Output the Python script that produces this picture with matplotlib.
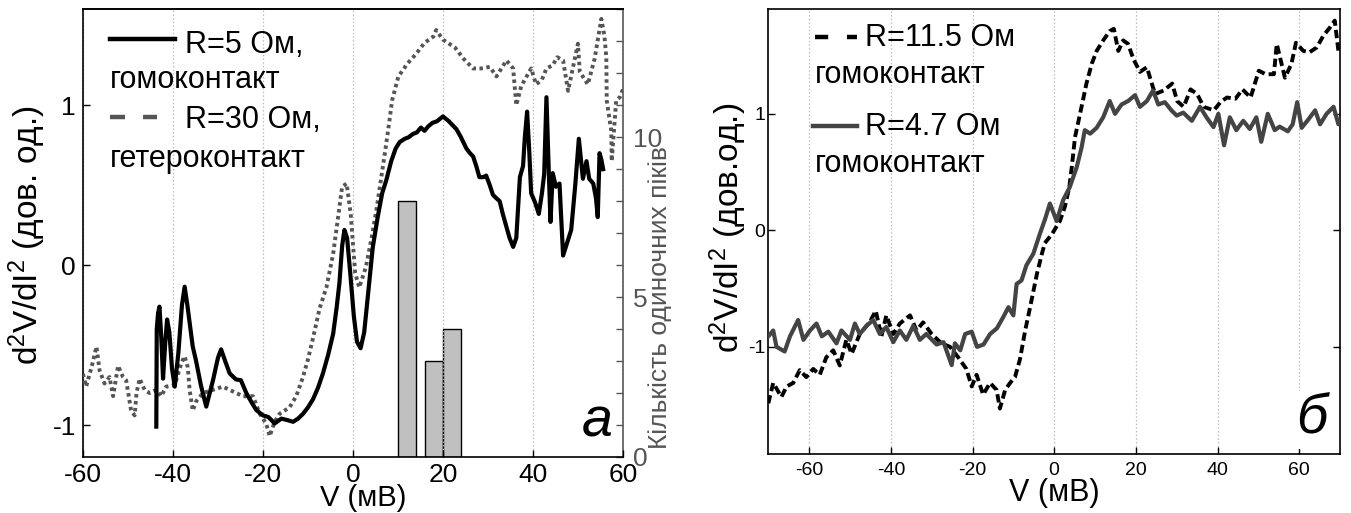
import matplotlib
matplotlib.use("Agg")
import matplotlib.pyplot as plt
from matplotlib.lines import Line2D
from matplotlib.ticker import MultipleLocator, FixedLocator

plt.rcParams['font.family'] = ['Liberation Sans', 'DejaVu Sans']
plt.rcParams['mathtext.fontset'] = 'custom'
plt.rcParams['mathtext.rm'] = 'Liberation Sans'
plt.rcParams['mathtext.it'] = 'Liberation Sans:italic'
plt.rcParams['lines.scale_dashes'] = False
plt.rcParams['axes.unicode_minus'] = False

# ---------------- panel a data ----------------
a_black_x = [-43.7, -43.6, -43.3, -43.0, -42.6, -42.2, -41.7, -41.3, -40.8, -40.2, -39.6, -38.8, -38.0, -37.4,
             -36.8, -35.6, -34.9, -33.8, -32.6, -31.1, -30.0, -29.3, -28.4, -27.4, -26.0, -24.9, -23.7, -22.5,
             -21.5, -20.0, -18.8, -17.4, -15.9, -14.5, -13.3, -12.2, -11.1, -10.0, -8.9, -7.8, -6.7, -5.5, -4.4,
             -3.6, -3.0, -2.4, -1.9, -1.3, -0.6, 0.2, 0.9, 1.7, 2.5, 3.4, 4.4, 5.5, 6.5, 7.4, 8.5, 9.5, 10.4,
             11.5, 12.4, 13.3, 14.2, 15.1, 15.9, 16.8, 17.7, 18.7, 20.0, 21.3, 23.0, 24.0, 25.2, 26.0, 26.7,
             27.4, 28.1, 29.0, 29.6, 30.4, 31.1, 31.8, 32.6, 33.3, 34.1, 34.8, 35.6, 36.3, 37.1, 37.8, 38.2,
             38.7, 39.2, 39.6, 40.5, 41.3, 42.0, 42.5, 43.0, 43.5, 43.9, 44.4, 45.1, 45.9, 46.7, 47.6, 48.5,
             49.4, 50.2, 51.1, 51.9, 52.5, 53.4, 54.0, 54.4, 54.8, 55.2, 55.6]
a_black_y = [-1.01, -0.40, -0.30, -0.26, -0.45, -0.71, -0.48, -0.34, -0.42, -0.65, -0.76, -0.55, -0.25, -0.135,
             -0.25, -0.51, -0.594, -0.75, -0.885, -0.72, -0.58, -0.527, -0.60, -0.677, -0.715, -0.72, -0.80, -0.86,
             -0.906, -0.94, -0.95, -0.99, -0.96, -0.97, -0.98, -0.96, -0.93, -0.89, -0.84, -0.77, -0.68, -0.56, -0.43,
             -0.26, -0.11, 0.12, 0.22, 0.17, -0.05, -0.32, -0.48, -0.52, -0.42, -0.17, 0.11, 0.30, 0.45, 0.53, 0.65,
             0.73, 0.77, 0.79, 0.80, 0.82, 0.83, 0.86, 0.84, 0.87, 0.89, 0.90, 0.93, 0.90, 0.85, 0.80, 0.73, 0.70,
             0.68, 0.62, 0.55, 0.55, 0.56, 0.50, 0.44, 0.42, 0.40, 0.32, 0.24, 0.17, 0.114, 0.17, 0.55, 0.62, 0.80,
             0.96, 0.70, 0.45, 0.39, 0.32, 0.45, 0.57, 1.05, 0.60, 0.27, 0.575, 0.49, 0.51, 0.06, 0.14, 0.22,
             0.50, 0.79, 0.54, 0.65, 0.54, 0.51, 0.42, 0.30, 0.70, 0.66, 0.60]

a_grey_x = [-60.0, -59.3, -58.1, -57.0, -56.3, -55.2, -54.1, -53.3, -52.2, -51.1, -50.4, -49.3, -48.5, -48.1,
            -47.4, -46.3, -45.2, -43.7, -42.6, -41.5, -39.6, -38.1, -37.4, -36.7, -36.3, -35.6, -34.8, -33.3,
            -31.1, -28.9, -26.7, -24.4, -22.2, -20.7, -19.3, -18.5, -17.4, -16.3, -14.1, -12.6, -11.1, -10.0,
            -8.9, -7.4, -5.9, -4.4, -3.3, -2.4, -1.4, -0.5, 0.5, 1.4, 2.9, 4.2, 5.3, 6.3, 7.2, 8.0, 8.7, 10.1,
            12.1, 14.0, 15.9, 17.9, 18.5, 20.0, 22.7, 24.6, 26.7, 28.5, 30.4, 31.9, 34.1, 35.6, 36.3, 37.4,
            39.6, 40.7, 42.0, 43.0, 44.4, 45.4, 46.7, 47.8, 48.7, 50.0, 50.4, 52.2, 53.7, 55.2, 55.9, 56.3,
            56.4, 57.4, 57.5, 58.5, 59.3, 60.0]
a_grey_y = [-0.68, -0.76, -0.64, -0.51, -0.66, -0.74, -0.70, -0.82, -0.63, -0.70, -0.72, -0.91, -0.94, -0.80,
            -0.71, -0.78, -0.80, -0.78, -0.82, -0.76, -0.75, -0.61, -0.57, -0.64, -0.78, -0.91, -0.85, -0.80,
            -0.78, -0.76, -0.79, -0.82, -0.82, -0.93, -0.99, -1.07, -0.98, -0.93, -0.89, -0.82, -0.70, -0.59,
            -0.46, -0.27, -0.14, 0.07, 0.30, 0.49, 0.51, 0.32, -0.05, -0.14, -0.01, 0.18, 0.36, 0.55, 0.72, 0.88,
            1.03, 1.18, 1.26, 1.32, 1.39, 1.43, 1.47, 1.41, 1.36, 1.29, 1.23, 1.23, 1.24, 1.18, 1.28, 1.23, 1.00,
            1.12, 1.23, 1.13, 1.16, 1.23, 1.25, 1.30, 1.28, 1.09, 1.21, 1.385, 1.21, 1.13, 1.29, 1.54, 1.43, 1.30,
            1.03, 0.84, 0.65, 1.03, 1.05, 1.10]

# histogram of single peaks (right axis of panel a)
hist_centers = [12, 18, 22]
hist_counts = [8, 3, 4]
hist_width = 4

# ---------------- panel b data ----------------
b_black_x = [-70, -68.8, -66.8, -65.5, -63.9, -62.3, -60.7, -59.0, -57.4, -55.8, -54.1, -52.5, -50.9, -49.6,
             -47.6, -45.2, -43.7, -42.3, -41.1, -39.4, -37.8, -35.3, -33.7, -32.1, -30.0, -27.6, -25.5, -23.5,
             -21.5, -20.2, -19.0, -17.4, -15.7, -14.1, -13.3, -12.0, -10.8, -9.6, -8.4, -7.1, -5.9, -4.2, -3.0,
             -2.3, -0.5, 1.4, 2.6, 3.7, 4.3, 5.1, 6.7, 7.9, 9.2, 10.4, 12.0, 13.6, 14.6, 15.7, 16.9, 18.1, 19.4,
             21.0, 22.7, 23.9, 24.7, 26.8, 28.9, 30.1, 31.7, 33.4, 35.0, 36.6, 39.1, 40.7, 42.3, 44.4, 46.1,
             48.1, 50.1, 51.8, 53.8, 54.5, 56.5, 58.1, 59.2, 61.0, 62.6, 64.3, 65.9, 67.5, 68.7, 69.6]
b_black_y = [-1.485, -1.31, -1.43, -1.34, -1.31, -1.20, -1.26, -1.19, -1.24, -1.09, -1.03, -1.16, -0.94, -1.06,
             -0.89, -0.79, -0.69, -0.91, -0.73, -0.89, -0.80, -0.73, -0.86, -0.79, -0.89, -0.97, -1.00, -1.09,
             -1.19, -1.34, -1.24, -1.41, -1.31, -1.37, -1.53, -1.37, -1.31, -1.26, -1.11, -0.86, -0.66, -0.37, -0.20,
             -0.11, -0.03, 0.08, 0.20, 0.37, 0.54, 0.80, 1.06, 1.26, 1.43, 1.54, 1.63, 1.71, 1.73, 1.54, 1.63, 1.60,
             1.47, 1.36, 1.40, 1.26, 1.17, 1.20, 1.26, 1.11, 1.06, 1.21, 1.17, 1.06, 1.03, 1.10, 1.14, 1.13, 1.21,
             1.14, 1.37, 1.34, 1.34, 1.60, 1.31, 1.43, 1.61, 1.54, 1.53, 1.57, 1.67, 1.74, 1.80, 1.54]

b_grey_x = [-70, -68.8, -68, -66, -64.7, -62.7, -61.4, -59.8, -58.2, -56.9, -55.3, -53.3, -52.1, -50, -48.8,
            -47.6, -46, -44.3, -42.7, -41.1, -39.4, -37.8, -36.2, -34.5, -32.9, -31.3, -28.8, -27.1, -25.1, -24.3,
            -23.0, -21.8, -20.2, -18.9, -17.3, -15.7, -14.0, -12.4, -11.2, -10.0, -9.2, -8.0, -6.8, -5.1, -3.5,
            -2.2, -1.05, 0.6, 2.2, 3.8, 5.5, 6.7, 7.5, 8.8, 10.4, 12.0, 13.6, 14.9, 16.5, 18.1, 19.8, 21.0, 22.7,
            24.2, 25.5, 27.1, 28.7, 30.0, 31.6, 33.7, 35.7, 37.3, 39.0, 40.2, 41.6, 43.0, 44.6, 46.3, 47.9, 49.5,
            50.7, 52.3, 54.0, 55.2, 57.2, 58.4, 59.5, 60.6, 62.2, 63.9, 65.1, 66.7, 68.4, 69.6, 70]
b_grey_y = [-0.91, -0.86, -1.00, -1.04, -0.91, -0.77, -0.94, -0.86, -0.80, -0.91, -0.87, -0.97, -0.86, -0.94,
            -0.80, -0.89, -0.82, -0.77, -0.89, -0.83, -0.96, -0.86, -0.94, -0.82, -0.94, -0.89, -0.98, -0.96,
            -1.157, -0.97, -1.03, -0.89, -0.87, -1.00, -0.98, -0.89, -0.84, -0.74, -0.66, -0.73, -0.46, -0.43,
            -0.30, -0.20, -0.03, 0.10, 0.23, 0.08, 0.26, 0.37, 0.54, 0.71, 0.86, 0.83, 0.88, 0.97, 1.11, 1.00,
            1.08, 1.11, 1.16, 1.06, 1.11, 1.20, 1.08, 1.10, 1.03, 0.985, 1.01, 0.94, 1.06, 0.97, 0.886, 1.00,
            0.73, 0.97, 0.86, 0.94, 0.87, 0.97, 0.76, 1.00, 0.86, 0.89, 0.85, 0.91, 1.10, 0.88, 0.95, 1.03, 0.91,
            1.00, 1.06, 0.91, 0.94]

x_ticks = [-60, -40, -20, 0, 20, 40, 60]
y_ticks = [-1, 0, 1]

GREY_A = '#555555'
GREY_B = '#444444'
GRID_C = '#b8b8b8'

fig = plt.figure(figsize=(13.51, 5.13), dpi=100)
fig.patch.set_facecolor('white')

# ================= panel a =================
ax = fig.add_axes([0.0614, 0.1092, 0.3997, 0.8727])
ax.plot(a_grey_x, a_grey_y, color=GREY_A, lw=2.8, linestyle=(0, (2.5, 2.5)), zorder=3)
ax.plot(a_black_x, a_black_y, color='black', lw=3.0, zorder=4, solid_joinstyle='round')
ax.set_xlim(-60, 60)
ax.set_ylim(-1.2, 1.6)
ax.set_xticks(x_ticks)
ax.set_yticks(y_ticks)
ax.xaxis.grid(True, linestyle=':', color=GRID_C, lw=0.9)
ax.set_axisbelow(True)
ax.tick_params(direction='in', length=5, width=1, labelsize=19, top=False, right=False)
ax.tick_params(axis='x', pad=4)
ax.tick_params(axis='y', pad=5)
for s in ['left', 'bottom', 'top']:
    ax.spines[s].set_linewidth(1.2)
ax.spines['right'].set_visible(False)
ax.set_xlabel('V (мВ)', fontsize=21)
ax.xaxis.set_label_coords(0.5185, -0.061)
ax.set_ylabel(r'd$^2$V/dI$^2$ (дов. од.)', fontsize=24, va='center')
ax.yaxis.set_label_coords(-0.104, 0.496)

ax2 = ax.twinx()
ax2.bar(hist_centers, hist_counts, width=hist_width, color='#c0c0c0', edgecolor='black', lw=1.0, zorder=2)
ax2.set_ylim(0, 14)
ax2.yaxis.set_major_locator(FixedLocator([0, 5, 10]))
ax2.yaxis.set_minor_locator(MultipleLocator(1))
ax2.tick_params(axis='y', which='both', direction='in', length=5, width=1, colors=GREY_A,
                labelsize=19, pad=7)
ax2.spines['right'].set_color(GREY_A)
ax2.spines['right'].set_linewidth(1.2)
ax2.spines['top'].set_linewidth(1.2)
ax2.spines['left'].set_visible(False)
ax2.spines['bottom'].set_visible(False)
ax2.set_ylabel('Кількість одиночних піків', fontsize=19, color=GREY_A, va='center')
ax2.yaxis.set_label_coords(1.069, 0.355)
ax2.yaxis.get_major_ticks()[0].label2.set_verticalalignment('center_baseline')
ax.set_zorder(ax2.get_zorder() + 1)
ax.patch.set_visible(False)

# legend of panel a (drawn by hand to mimic the original layout)
ax.add_line(Line2D([0.050, 0.170], [0.933, 0.933], transform=ax.transAxes, color='black', lw=3.2))
ax.add_line(Line2D([0.050, 0.138], [0.760, 0.760], transform=ax.transAxes, color=GREY_A, lw=3.2,
                   linestyle=(0, (10.8, 13.0))))
ax.text(0.189, 0.9017, 'R=5 Ом,', transform=ax.transAxes, fontsize=22, va='baseline')
ax.text(0.050, 0.8235, 'гомоконтакт', transform=ax.transAxes, fontsize=22, va='baseline')
ax.text(0.189, 0.7341, 'R=30 Ом,', transform=ax.transAxes, fontsize=22, va='baseline')
ax.text(0.050, 0.6484, 'гетероконтакт', transform=ax.transAxes, fontsize=22, va='baseline')
ax.text(0.981, 0.0447, 'а', transform=ax.transAxes, fontsize=40, style='italic', ha='right', va='baseline')

# ================= panel b =================
bx = fig.add_axes([0.5687, 0.115, 0.4232, 0.8675])
bx.plot(b_black_x, b_black_y, color='black', lw=2.8, linestyle=(0, (6.0, 3.0)), zorder=3)
bx.plot(b_grey_x, b_grey_y, color=GREY_B, lw=3.0, zorder=4)
bx.set_xlim(-70, 70)
bx.set_ylim(-1.92, 1.9)
bx.set_xticks(x_ticks)
bx.set_yticks(y_ticks)
bx.xaxis.grid(True, linestyle=':', color=GRID_C, lw=0.9)
bx.set_axisbelow(True)
bx.tick_params(direction='in', length=5, width=1, labelsize=14, top=False, right=True)
bx.tick_params(axis='x', pad=6)
bx.tick_params(axis='y', pad=2)
for s in bx.spines.values():
    s.set_linewidth(1.2)
bx.set_xlabel('V (мВ)', fontsize=22)
bx.xaxis.set_label_coords(0.50, -0.055)
bx.set_ylabel(r'd$^2$V/dI$^2$ (дов.од.)', fontsize=24, va='center')
bx.yaxis.set_label_coords(-0.07, 0.508)

bx.add_line(Line2D([0.0813, 0.1548], [0.9378, 0.9378], transform=bx.transAxes, color='black', lw=3.2,
                   linestyle=(0, (9.5, 13.5))))
bx.add_line(Line2D([0.0778, 0.1548], [0.737, 0.737], transform=bx.transAxes, color=GREY_B, lw=3.2))
bx.text(0.169, 0.9169, 'R=11.5 Ом', transform=bx.transAxes, fontsize=22, va='baseline')
bx.text(0.0813, 0.8344, 'гомоконтакт', transform=bx.transAxes, fontsize=22, va='baseline')
bx.text(0.169, 0.7169, 'R=4.7 Ом', transform=bx.transAxes, fontsize=22, va='baseline')
bx.text(0.0813, 0.6344, 'гомоконтакт', transform=bx.transAxes, fontsize=22, va='baseline')
bx.text(0.977, 0.045, 'б', transform=bx.transAxes, fontsize=40, style='italic', ha='right', va='baseline',
        bbox=dict(facecolor='white', edgecolor='none', pad=2), zorder=5)

fig.savefig('out.png', dpi=100, facecolor='white')
